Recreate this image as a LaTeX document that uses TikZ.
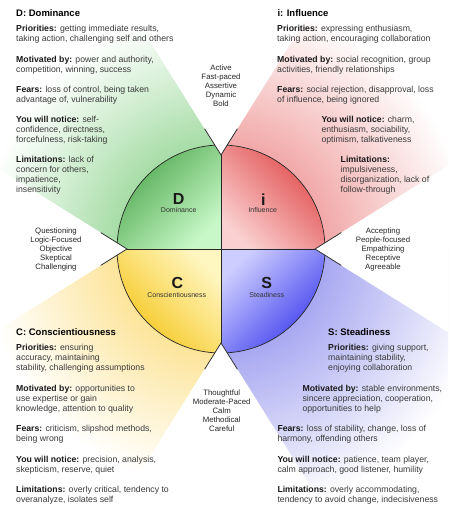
\documentclass[tikz,border=0pt]{standalone}
\usepackage{fontspec}
\setmainfont{Liberation Sans}
\usetikzlibrary{calc}

\definecolor{Dbeam}{HTML}{A6DCA6}
\definecolor{Dbeamm}{HTML}{D2EED2}
\definecolor{Ddark}{HTML}{4FA84F}
\definecolor{Dlight}{HTML}{C8F8C8}
\definecolor{Ibeam}{HTML}{F2A8A8}
\definecolor{Ibeamm}{HTML}{F8D4D4}
\definecolor{Idark}{HTML}{E04848}
\definecolor{Ilight}{HTML}{FAD0D0}
\definecolor{Cbeam}{HTML}{FCE49A}
\definecolor{Cbeamm}{HTML}{FEF2CD}
\definecolor{Cdark}{HTML}{F5C518}
\definecolor{Clight}{HTML}{FFF6C0}
\definecolor{Sbeam}{HTML}{A8A8F2}
\definecolor{Sbeamm}{HTML}{D4D4F8}
\definecolor{Sdark}{HTML}{3A3AEE}
\definecolor{Slight}{HTML}{CDCDFF}
\definecolor{bodytxt}{HTML}{3A3A3A}

\pgfdeclareradialshading{beamD}{\pgfpoint{0bp}{0bp}}{color(0bp)=(Dbeam); color(10.4bp)=(Dbeam); color(17bp)=(Dbeamm); color(24bp)=(white); color(25bp)=(white)}
\pgfdeclareradialshading{beamI}{\pgfpoint{0bp}{0bp}}{color(0bp)=(Ibeam); color(10.4bp)=(Ibeam); color(17.5bp)=(Ibeamm); color(25bp)=(white)}
\pgfdeclareradialshading{beamC}{\pgfpoint{0bp}{0bp}}{color(0bp)=(Cbeam); color(10.4bp)=(Cbeam); color(17bp)=(Cbeamm); color(24bp)=(white); color(25bp)=(white)}
\pgfdeclareradialshading{beamS}{\pgfpoint{0bp}{0bp}}{color(0bp)=(Sbeam); color(10.4bp)=(Sbeam); color(19bp)=(Sbeamm); color(27bp)=(white)}

\newcommand\blk[1]{\begin{tabular}[t]{@{}l@{}}#1\end{tabular}}
\newcommand\cblk[1]{\begin{tabular}[t]{@{}c@{}}#1\end{tabular}}
\newcommand\lb[1]{\textcolor{black!90}{\textbf{#1}}}

\tikzset{
  txtbody/.style={anchor=base west, inner sep=0pt, font=\fontsize{8.7}{10}\selectfont, text=bodytxt},
  txthead/.style={anchor=base west, inner sep=0pt, font=\fontsize{9.5}{11}\selectfont\bfseries, text=black},
  txtside/.style={anchor=base, inner sep=0pt, font=\fontsize{7.8}{9}\selectfont, text=black!85},
  txtbig/.style={inner sep=0pt, font=\fontsize{16}{18}\selectfont\bfseries, text=black!90},
  txtsmall/.style={inner sep=0pt, font=\fontsize{7}{8}\selectfont, text=black!80},
  notchline/.style={draw=black!80, line width=0.8pt},
  rimline/.style={draw=black!85, line width=0.7pt},
}

\begin{document}
\begin{tikzpicture}[x=1pt,y=1pt]
\useasboundingbox (0,0) rectangle (448,513);
\fill[white] (0,0) rectangle (448,513);
\begin{scope}
\clip (0,0) rectangle (448,513);
\coordinate (O) at (221,264);
\coordinate (T) at ($(O)+(90:94)$);
\coordinate (L) at ($(O)+(180:94)$);
\coordinate (R) at ($(O)+(0:94)$);
\coordinate (B) at ($(O)+(270:94)$);

% beams
\begin{scope}
\clip (O) rectangle (-10,530);
\shade[shading=beamD] ($(O)+(-250,-250)$) rectangle ($(O)+(250,250)$);
\end{scope}
\begin{scope}
\clip (O) rectangle (460,530);
\shade[shading=beamI] ($(O)+(-250,-250)$) rectangle ($(O)+(250,250)$);
\end{scope}
\begin{scope}
\clip (O) rectangle (-10,-10);
\shade[shading=beamC] ($(O)+(-250,-250)$) rectangle ($(O)+(250,250)$);
\end{scope}
\begin{scope}
\clip (O) rectangle (460,-10);
\shade[shading=beamS] ($(O)+(-250,-250)$) rectangle ($(O)+(250,250)$);
\end{scope}

% circle quadrants
\shade[top color=Ddark, bottom color=Dlight, shading angle=45] (O) -- ++(180:104) arc[start angle=180, end angle=90, radius=104] -- cycle;
\shade[top color=Idark, bottom color=Ilight, shading angle=-45] (O) -- ++(90:104) arc[start angle=90, end angle=0, radius=104] -- cycle;
\shade[top color=Sdark, bottom color=Slight, shading angle=-135] (O) -- ++(0:104) arc[start angle=0, end angle=-90, radius=104] -- cycle;
\shade[top color=Cdark, bottom color=Clight, shading angle=135] (O) -- ++(-90:104) arc[start angle=-90, end angle=-180, radius=104] -- cycle;
\draw[rimline] (O) circle[radius=104];
\draw[rimline] ($(O)+(-104,0)$) -- ($(O)+(104,0)$);
\draw[rimline] ($(O)+(0,-104)$) -- ($(O)+(0,104)$);

% notches
\fill[white] (T) -- ($(T)+(58:500)$) -- ($(T)+(122:500)$) -- cycle;
\fill[white] (L) -- ($(L)+(148:500)$) -- ($(L)+(212:500)$) -- cycle;
\fill[white] (R) -- ($(R)+(32:500)$) -- ($(R)+(-32:500)$) -- cycle;
\fill[white] (B) -- ($(B)+(238:500)$) -- ($(B)+(302:500)$) -- cycle;
\draw[notchline] ($(T)+(122:31)$) -- (T) -- ($(T)+(58:31)$);
\draw[notchline] ($(L)+(148:31)$) -- (L) -- ($(L)+(212:31)$);
\draw[notchline] ($(R)+(32:31)$) -- (R) -- ($(R)+(-32:31)$);
\draw[notchline] ($(B)+(238:31)$) -- (B) -- ($(B)+(302:31)$);
\end{scope}

% centre letters
\node[txtbig] (dL) at (178.7,313.7) {D};
\node[txtsmall] (dS) at (178.7,303) {Dominance};
\node[txtbig] (iL) at (263.3,313.7) {i};
\node[txtsmall] (iS) at (262.7,303) {Influence};
\node[txtbig] (cL) at (177.3,230.3) {C};
\node[txtsmall] (cS) at (176.7,218.3) {Conscientiousness};
\node[txtbig] (sL) at (266.7,230.3) {S};
\node[txtsmall] (sS) at (266.7,218.3) {Steadiness};

% side words
\node[txtside] (top) at (221,442) {\cblk{Active\\Fast-paced\\Assertive\\Dynamic\\Bold}};
\node[txtside] (left) at (56,279.3) {\cblk{Questioning\\Logic-Focused\\Objective\\Skeptical\\Challenging}};
\node[txtside] (right) at (383,279.3) {\cblk{Accepting\\People-focused\\Empathizing\\Receptive\\Agreeable}};
\node[txtside] (bottom) at (221.7,117) {\cblk{Thoughtful\\Moderate-Paced\\Calm\\Methodical\\Careful}};

% D block
\node[txthead] (dh) at (16,496.2) {D: Dominance};
\node[txtbody] (dp) at (16,481) {\blk{\lb{Priorities:} getting immediate results,\\taking action, challenging self and others}};
\node[txtbody] (dm) at (16,450) {\blk{\lb{Motivated by:} power and authority,\\competition, winning, success}};
\node[txtbody] (df) at (16,420.7) {\blk{\lb{Fears:} loss of control, being taken\\advantage of, vulnerability}};
\node[txtbody] (dn) at (16,390.7) {\blk{\lb{You will notice:} self-\\confidence, directness,\\forcefulness, risk-taking}};
\node[txtbody] (dl) at (16,350.7) {\blk{\lb{Limitations:} lack of\\concern for others,\\impatience,\\insensitivity}};

% i block
\node[txthead] (ih) at (277.3,496.2) {i: Influence};
\node[txtbody] (ip) at (277,481) {\blk{\lb{Priorities:} expressing enthusiasm,\\taking action, encouraging collaboration}};
\node[txtbody] (im) at (277,450) {\blk{\lb{Motivated by:} social recognition, group\\activities, friendly relationships}};
\node[txtbody] (if) at (277,420.7) {\blk{\lb{Fears:} social rejection, disapproval, loss\\of influence, being ignored}};
\node[txtbody] (in) at (321.3,390.7) {\blk{\lb{You will notice:} charm,\\enthusiasm, sociability,\\optimism, talkativeness}};
\node[txtbody] (il) at (340.5,350.7) {\blk{\lb{Limitations:}\\impulsiveness,\\disorganization, lack of\\follow-through}};

% C block
\node[txthead] (ch) at (16,177.2) {C: Conscientiousness};
\node[txtbody] (cp) at (16,162.7) {\blk{\lb{Priorities:} ensuring\\accuracy, maintaining\\stability, challenging assumptions}};
\node[txtbody] (cm) at (16,121.7) {\blk{\lb{Motivated by:} opportunities to\\use expertise or gain\\knowledge, attention to quality}};
\node[txtbody] (cf) at (16,81.7) {\blk{\lb{Fears:} criticism, slipshod methods,\\being wrong}};
\node[txtbody] (cn) at (16,50.7) {\blk{\lb{You will notice:} precision, analysis,\\skepticism, reserve, quiet}};
\node[txtbody] (cl) at (16,20.7) {\blk{\lb{Limitations:} overly critical, tendency to\\overanalyze, isolates self}};

% S block
\node[txthead] (sh) at (328,177.2) {S: Steadiness};
\node[txtbody] (sp) at (328,162.7) {\blk{\lb{Priorities:} giving support,\\maintaining stability,\\enjoying collaboration}};
\node[txtbody] (sm) at (302.3,121.7) {\blk{\lb{Motivated by:} stable environments,\\sincere appreciation, cooperation,\\opportunities to help}};
\node[txtbody] (sf) at (277.3,81.7) {\blk{\lb{Fears:} loss of stability, change, loss of\\harmony, offending others}};
\node[txtbody] (sn) at (277.3,50.7) {\blk{\lb{You will notice:} patience, team player,\\calm approach, good listener, humility}};
\node[txtbody] (sl) at (277.3,20.7) {\blk{\lb{Limitations:} overly accommodating,\\tendency to avoid change, indecisiveness}};
\end{tikzpicture}
\end{document}
